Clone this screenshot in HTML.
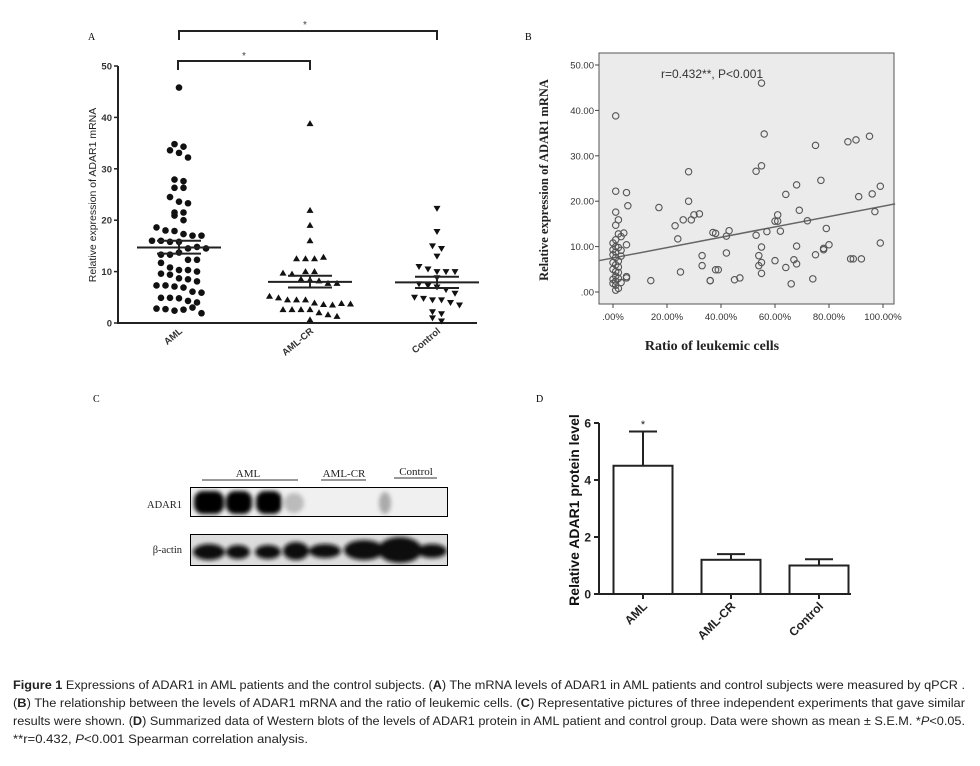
<!DOCTYPE html>
<html><head><meta charset="utf-8"><style>
body{margin:0;background:#fff;width:980px;height:766px;overflow:hidden}
svg{display:block}
.ar{font-family:"Liberation Sans",Arial,sans-serif}
.sf{font-family:"Liberation Serif",serif}
.cap{font-family:"Liberation Sans Narrow","Liberation Sans",sans-serif;font-size:12.3px;fill:#222}
</style></head><body>
<svg id="fig" width="980" height="766" viewBox="0 0 980 766" xmlns="http://www.w3.org/2000/svg">
<g id="pa">
<text x="88" y="40" class="sf" font-size="10">A</text>
<path d="M179,40 V31 H437 V40" fill="none" stroke="#222" stroke-width="2"/>
<text x="305" y="28" class="ar" font-size="10" fill="#444" text-anchor="middle">*</text>
<path d="M178,70 V61 H310 V70" fill="none" stroke="#222" stroke-width="2"/>
<text x="244" y="59" class="ar" font-size="10" fill="#444" text-anchor="middle">*</text>
<text transform="translate(96,195) rotate(-90)" class="ar" font-size="10.5" fill="#222" text-anchor="middle">Relative expression of ADAR1 mRNA</text>
</g>
<g id="pb">
<text x="525" y="40" class="sf" font-size="10">B</text>
<rect x="599" y="53" width="295" height="251" fill="#ebebeb" stroke="#555" stroke-width="1"/>
<text x="661" y="78" class="ar" font-size="12" fill="#333">r=0.432**, P&lt;0.001</text>
<text x="712" y="350" class="sf" font-size="14" font-weight="bold" fill="#222" text-anchor="middle">Ratio of leukemic cells</text>
<text transform="translate(548,180) rotate(-90)" class="sf" font-size="12.5" font-weight="bold" fill="#222" text-anchor="middle">Relative expression of ADAR1 mRNA</text>
</g>
<g id="pc">
<text x="93" y="402" class="sf" font-size="10">C</text>
<text x="248" y="477" class="sf" font-size="11" fill="#222" text-anchor="middle">AML</text>
<line x1="202" y1="480" x2="298" y2="480" stroke="#333"/>
<text x="344" y="477" class="sf" font-size="11" fill="#222" text-anchor="middle">AML-CR</text>
<line x1="321" y1="480" x2="366" y2="480" stroke="#333"/>
<text x="416" y="475" class="sf" font-size="11" fill="#222" text-anchor="middle">Control</text>
<line x1="394" y1="478" x2="437" y2="478" stroke="#333"/>
<text x="182" y="508" class="sf" font-size="10.5" fill="#222" text-anchor="end">ADAR1</text>
<text x="182" y="553" class="sf" font-size="10.5" fill="#222" text-anchor="end">β-actin</text>
<defs><filter id="bl"><feGaussianBlur stdDeviation="2"/></filter><clipPath id="c1"><rect x="190" y="487" width="258" height="30"/></clipPath><clipPath id="c2"><rect x="190" y="534" width="258" height="32"/></clipPath></defs>
<g clip-path="url(#c1)">
<rect x="190" y="487" width="258" height="30" fill="#f0f0f0"/>
<g filter="url(#bl)" fill="#000">
<rect x="194" y="491" width="30" height="23" rx="9"/><rect x="226" y="491" width="26" height="23" rx="9"/><rect x="256" y="491" width="26" height="23" rx="9"/>
<ellipse cx="294" cy="503" rx="10" ry="10" fill="#bbb"/><ellipse cx="385" cy="503" rx="6" ry="11" fill="#aaa"/>
</g>
<rect x="190" y="487" width="258" height="30" fill="none" stroke="#000" stroke-width="2"/>
</g>
<g clip-path="url(#c2)">
<rect x="190" y="534" width="258" height="32" fill="#ddd"/>
<g filter="url(#bl)" fill="#111">
<ellipse cx="209" cy="552" rx="16" ry="8"/><ellipse cx="238" cy="552" rx="12" ry="7"/><ellipse cx="268" cy="552" rx="13" ry="7"/>
<ellipse cx="296" cy="551" rx="13" ry="9"/><ellipse cx="325" cy="551" rx="16" ry="7"/><ellipse cx="364" cy="550" rx="20" ry="10"/>
<ellipse cx="400" cy="550" rx="22" ry="13"/><ellipse cx="432" cy="551" rx="15" ry="7"/>
</g>
<rect x="190" y="534" width="258" height="32" fill="none" stroke="#000" stroke-width="2"/>
</g>
</g>
<g id="pd">
<text x="536" y="402" class="sf" font-size="10">D</text>
<text transform="translate(579,510) rotate(-90)" class="ar" font-size="14" font-weight="bold" fill="#111" text-anchor="middle">Relative ADAR1 protein level</text>
<text x="643" y="428" class="ar" font-size="11" fill="#222" text-anchor="middle">*</text>
</g>
<g>
<text class="cap" x="13" y="689" textLength="952" lengthAdjust="spacingAndGlyphs"><tspan font-weight="bold">Figure 1</tspan> Expressions of ADAR1 in AML patients and the control subjects. (<tspan font-weight="bold">A</tspan>) The mRNA levels of ADAR1 in AML patients and control subjects were measured by qPCR .</text>
<text class="cap" x="13" y="707" textLength="952" lengthAdjust="spacingAndGlyphs">(<tspan font-weight="bold">B</tspan>) The relationship between the levels of ADAR1 mRNA and the ratio of leukemic cells. (<tspan font-weight="bold">C</tspan>) Representative pictures of three independent experiments that gave similar</text>
<text class="cap" x="13" y="725" textLength="952" lengthAdjust="spacingAndGlyphs">results were shown. (<tspan font-weight="bold">D</tspan>) Summarized data of Western blots of the levels of ADAR1 protein in AML patient and control group. Data were shown as mean ± S.E.M. *<tspan font-style="italic">P</tspan>&lt;0.05.</text>
<text class="cap" x="13" y="743" textLength="295" lengthAdjust="spacingAndGlyphs">**r=0.432, <tspan font-style="italic">P</tspan>&lt;0.001 Spearman correlation analysis.</text>
</g>
</svg>
<script>
const aCategories = ["AML","AML-CR","Control"];
const aValsAML = [45.8,34.8,34.3,33.6,33.1,32.2,27.9,27.6,26.3,26.3,24.5,23.6,23.3,21.5,21.5,20.9,20.0,18.6,18.0,17.9,17.3,17.0,17.0,16.0,16.0,15.8,15.8,14.5,14.8,14.5,13.3,13.3,13.7,12.3,12.3,11.7,10.8,10.3,10.3,10.0,9.6,9.4,8.7,8.5,8.1,7.3,7.3,7.1,6.9,6.1,5.9,4.9,4.9,4.8,4.3,4.0,2.8,2.7,2.4,2.6,3.0,1.9];
const aValsCR = [38.8,21.9,19.0,16.0,12.5,12.5,12.5,12.8,10.0,10.0,9.7,9.5,8.5,8.4,8.2,7.7,7.7,5.2,4.9,4.5,4.5,4.5,3.9,3.6,3.5,3.8,3.7,2.6,2.6,2.6,2.6,2.0,1.6,1.3,0.6];
const aValsCtrl = [22.3,17.8,15.0,14.5,13.0,11.0,10.5,10.0,10.0,10.0,8.8,7.6,7.3,7.0,6.5,5.8,5.0,4.8,4.5,4.5,4.0,3.5,2.2,1.8,1.0,0.4];
const aMeans = [14.7,8.0,7.9];
const aSemHi = [16.0,9.2,9.0];
const aSemLo = [13.5,6.9,6.8];
const aTicks = [0,10,20,30,40,50];
const bX = [1,1,5,5.5,1,2,1,2,4,5,0,1,2,3,0,1,3,0,1,2,0,1,2,1,5,5,0,1,3,1,2,1,0,2,1,3,2,0,1,14,17,23,24,25,26,28,28,29,30,32,33,33,36,36,37,38,38,39,42,42,43,45,47,53,53,54,54,55,55,55,55,55,56,57,60,60,61,61,62,64,64,66,67,68,68,68,69,72,74,75,75,77,78,78,79,80,87,88,89,90,91,92,95,96,97,99,99];
const bY = [38.8,22.2,21.9,19,17.6,15.9,14.7,12.8,13,10.4,10.8,10,9.8,9.2,8.2,7.6,7.9,6.5,6,5.5,5,4.5,4.3,3.5,3.4,3.1,2.8,2.4,2.1,1.5,0.8,0.4,1.9,3.0,11.5,12.2,6.8,9.3,8.8,2.5,18.6,14.6,11.7,4.4,15.9,26.5,20,15.9,17,17.2,8,5.8,2.5,2.5,13.1,12.9,4.9,4.9,12.3,8.6,13.5,2.7,3.1,26.6,12.5,8,5.8,46,27.8,9.9,6.5,4.1,34.8,13.3,6.9,15.6,17,15.6,13.4,21.5,5.4,1.8,7.1,23.6,6.2,10.1,18,15.7,2.9,32.3,8.2,24.6,9.3,9.6,14,10.4,33.1,7.3,7.3,33.5,21,7.3,34.3,21.6,17.7,23.3,10.8];
const bYTicks = [0,10,20,30,40,50];
const bXTicks = [0,20,40,60,80,100];
const bFitIntercept = 7.5, bFitSlope = 0.114;
const dCategories = ["AML","AML-CR","Control"];
const dMeans = [4.5,1.2,1.0];
const dErr = [5.7,1.4,1.22];
const dTicks = [0,2,4,6];

const NS = "http://www.w3.org/2000/svg";
function mk(parent, tag, attrs, txt){const e=document.createElementNS(NS,tag);for(const k in attrs)e.setAttribute(k,attrs[k]);if(txt!==undefined)e.textContent=txt;parent.appendChild(e);return e;}

const pa = document.getElementById('pa');
const aY = v => 323 - v*(323-66)/50;
const aXc = [179,310,437];
let ax = mk(pa,'path',{d:'M118,66 V323 H477',fill:'none',stroke:'#222','stroke-width':2});


aTicks.forEach(t=>{
  mk(pa,'line',{x1:114,x2:118,y1:aY(t),y2:aY(t),stroke:'#222','stroke-width':1.5});
  const tl=mk(pa,'text',{x:112,y:aY(t)+3.5,class:'ar','font-size':9.5,'font-weight':'bold',fill:'#333','text-anchor':'end'},t);
  
  
});
aCategories.forEach((c,i)=>{
  const tl=mk(pa,'text',{transform:`translate(${aXc[i]+4},${332}) rotate(-40)`,class:'ar','font-size':9.5,'font-weight':'bold',fill:'#333','text-anchor':'end'},c);
  
  
});
function swarm(vals, cx){
  const BIN=2.2, SP=9;
  const cnt={};vals.forEach(v=>{const b=Math.round(v/BIN);cnt[b]=(cnt[b]||0)+1;});
  const seen={};
  return vals.map(v=>{const b=Math.round(v/BIN);seen[b]=(seen[b]||0)+1;const k=seen[b]-1;const n=cnt[b];
    const off=(k-(n-1)/2)*SP;return [cx+off,aY(v)];});
}
const aSets=[aValsAML,aValsCR,aValsCtrl];
aSets.forEach((vals,gi)=>{
  const pts=swarm(vals,aXc[gi]);
  pts.forEach(([x,y])=>{
    let m;
    if(gi===0) m=mk(pa,'circle',{cx:x,cy:y,r:3.3,fill:'#111'});
    else if(gi===1) m=mk(pa,'path',{d:`M${x},${y-3.5} L${x+3.5},${y+2.5} L${x-3.5},${y+2.5}Z`,fill:'#111'});
    else m=mk(pa,'path',{d:`M${x},${y+3.5} L${x+3.5},${y-2.5} L${x-3.5},${y-2.5}Z`,fill:'#111'});
    
    
  });
  const cx=aXc[gi];
  const ml=mk(pa,'line',{x1:cx-42,x2:cx+42,y1:aY(aMeans[gi]),y2:aY(aMeans[gi]),stroke:'#222','stroke-width':2});
  
  
  const el=mk(pa,'path',{d:`M${cx-22},${aY(aSemHi[gi])} H${cx+22} M${cx},${aY(aSemHi[gi])} V${aY(aSemLo[gi])} M${cx-22},${aY(aSemLo[gi])} H${cx+22}`,fill:'none',stroke:'#222','stroke-width':2});
  
  
});

const pb=document.getElementById('pb');
const bYs=v=>292-v*(292-65)/50;
const bXs=v=>613+v*(883-613)/100;
bYTicks.forEach(t=>{
  mk(pb,'line',{x1:595,x2:599,y1:bYs(t),y2:bYs(t),stroke:'#444'});
  const tl=mk(pb,'text',{x:594,y:bYs(t)+3.5,class:'ar','font-size':9.5,fill:'#333','text-anchor':'end'},(t===0?'':t)+'.00');
  
  
});
bXTicks.forEach(t=>{
  mk(pb,'line',{x1:bXs(t),x2:bXs(t),y1:304,y2:308,stroke:'#444'});
  const tl=mk(pb,'text',{x:bXs(t),y:320,class:'ar','font-size':9.5,fill:'#333','text-anchor':'middle'},(t===0?'':t)+'.00%');
  
  
});
const fx1=-5.3, fx2=104.5;
const fl=mk(pb,'line',{x1:bXs(fx1),x2:bXs(fx2),y1:bYs(bFitIntercept+bFitSlope*fx1),y2:bYs(bFitIntercept+bFitSlope*fx2),stroke:'#666','stroke-width':1.5});


bX.forEach((x,i)=>{
  const c=mk(pb,'circle',{cx:bXs(x),cy:bYs(bY[i]),r:3.2,fill:'none',stroke:'#555','stroke-width':1.1});
  
  
});

const pd=document.getElementById('pd');
const dY=v=>594-v*(594-423)/6;
const dXc=[643,731,819];
const dax=mk(pd,'path',{d:'M599,423 V594 H851',fill:'none',stroke:'#222','stroke-width':2});


dTicks.forEach(t=>{
  mk(pd,'line',{x1:594,x2:599,y1:dY(t),y2:dY(t),stroke:'#222','stroke-width':2});
  const tl=mk(pd,'text',{x:591,y:dY(t)+4.5,class:'ar','font-size':12,'font-weight':'bold',fill:'#222','text-anchor':'end'},t);
  
  
});
dCategories.forEach((c,i)=>{
  const cx=dXc[i];
  const er=mk(pd,'path',{d:`M${cx},${dY(dMeans[i])} V${dY(dErr[i])} M${cx-14},${dY(dErr[i])} H${cx+14}`,fill:'none',stroke:'#222','stroke-width':2});
  
  
  const b=mk(pd,'rect',{x:cx-29.5,y:dY(dMeans[i]),width:59,height:594-dY(dMeans[i]),fill:'#fff',stroke:'#222','stroke-width':2});
  
  
  mk(pd,'line',{x1:cx,x2:cx,y1:594,y2:599,stroke:'#222','stroke-width':2});
  const tl=mk(pd,'text',{transform:`translate(${cx+5},${607}) rotate(-45)`,class:'ar','font-size':12,'font-weight':'bold',fill:'#222','text-anchor':'end'},c);
  
  
});
</script>
</body></html>
